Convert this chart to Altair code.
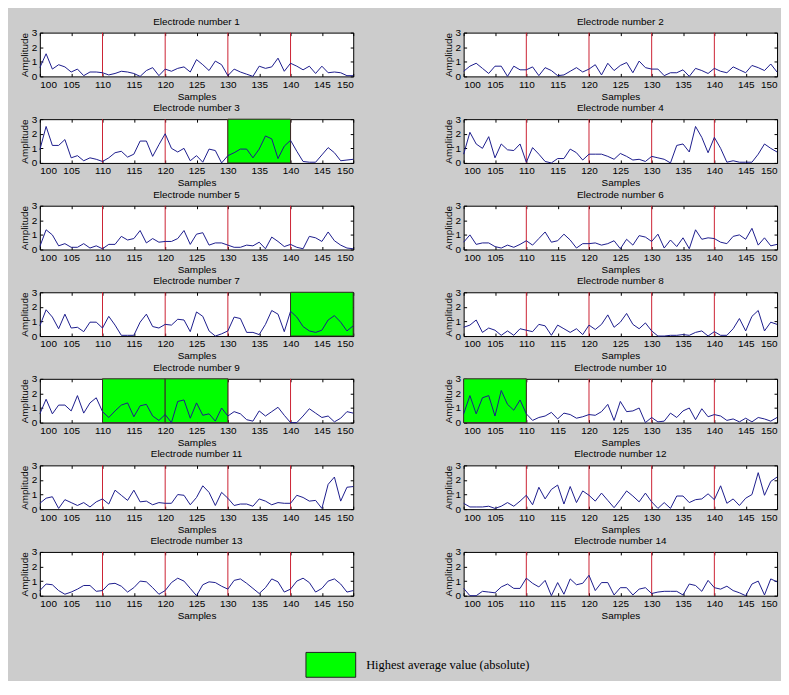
import altair as alt
import pandas as pd

samples = list(range(100, 151))

amps = {
    1: [0.6, 1.55, 0.5, 0.8, 0.65, 0.3, 0.5, 0.05, 0.3, 0.3, 0.25, 0.1, 0.2, 0.35, 0.3, 0.2, 0.0, 0.4, 0.6, 0.05,
        0.5, 0.35, 0.55, 0.65, 0.3, 1.15, 0.8, 0.4, 1.05, 0.8, 0.05, 0.5, 0.3, 0.15, 0.0, 0.7, 0.55, 0.65, 1.25, 0.35,
        0.9, 0.7, 0.45, 0.7, 0.2, 0.7, 0.25, 0.3, 0.25, 0.05, 0.05],
    2: [0.35, 0.7, 0.9, 0.55, 0.2, 0.7, 0.7, 0.0, 0.7, 0.45, 0.45, 0.65, 0.05, 0.6, 0.4, 0.05, 0.1, 0.35, 0.6, 0.3,
        0.5, 0.8, 0.1, 0.9, 0.4, 0.75, 0.95, 0.25, 1.05, 0.6, 0.5, 0.5, 0.05, 0.25, 0.25, 0.45, 0.0, 0.55, 0.4, 0.2,
        0.55, 0.35, 0.25, 0.65, 0.45, 0.25, 0.75, 0.6, 0.4, 0.85, 0.3],
    3: [0.9, 2.5, 1.2, 1.2, 1.6, 0.35, 0.5, 0.15, 0.35, 0.25, 0.1, 0.35, 0.7, 0.8, 0.4, 0.6, 1.5, 1.5, 0.45, 1.25,
        2.0, 1.0, 0.75, 1.0, 0.15, 0.5, 0.05, 0.95, 0.85, 0.0, 0.5, 0.7, 0.95, 0.95, 0.35, 0.95, 1.85, 1.65, 0.3, 1.15,
        1.55, 0.8, 0.1, 0.05, 0.05, 0.55, 1.05, 0.7, 0.15, 0.2, 0.25],
    4: [0.6, 2.1, 1.3, 1.0, 1.8, 0.35, 1.3, 0.9, 0.85, 1.3, 0.05, 1.05, 0.6, 0.1, 0.0, 0.3, 0.3, 0.95, 0.7, 0.2,
        0.6, 0.6, 0.6, 0.45, 0.25, 0.65, 0.45, 0.2, 0.25, 0.1, 0.45, 0.35, 0.25, 0.0, 1.2, 1.3, 0.75, 2.5, 1.75, 0.7,
        1.75, 1.0, 0.05, 0.15, 0.05, 0.05, 0.05, 0.6, 1.3, 1.0, 0.75],
    5: [0.2, 1.35, 1.0, 0.25, 0.4, 0.15, 0.15, 0.4, 0.1, 0.25, 0.05, 0.35, 0.35, 0.9, 0.65, 0.75, 1.3, 0.45, 0.75, 0.5,
        0.55, 0.55, 0.75, 1.3, 0.35, 1.05, 1.15, 0.3, 0.45, 0.45, 0.3, 0.15, 0.15, 0.3, 0.25, 0.5, 0.05, 0.85, 0.55, 0.2,
        0.35, 0.15, 0.05, 0.9, 0.8, 0.55, 1.2, 0.6, 0.3, 0.1, 0.05],
    6: [0.5, 1.0, 0.35, 0.45, 0.45, 0.2, 0.1, 0.3, 0.15, 0.35, 0.6, 0.3, 0.75, 1.2, 0.5, 0.6, 1.05, 0.65, 0.1, 0.4,
        0.4, 0.45, 0.3, 0.4, 0.6, 0.05, 0.7, 0.3, 0.95, 0.85, 0.55, 1.05, 0.1, 0.65, 0.2, 0.8, 0.05, 1.35, 0.7, 0.8,
        0.75, 0.5, 0.4, 0.9, 1.0, 0.7, 1.45, 0.3, 0.8, 0.25, 0.35],
    7: [0.7, 1.8, 1.3, 0.5, 1.5, 0.55, 0.6, 0.3, 0.95, 0.95, 0.55, 1.35, 0.75, 0.05, 0.05, 0.05, 0.95, 1.5, 0.65, 0.55,
        0.8, 0.75, 1.15, 1.1, 0.3, 1.65, 1.35, 0.35, 0.0, 0.15, 0.35, 1.3, 1.2, 0.25, 0.25, 0.1, 0.8, 1.75, 1.5, 0.3,
        1.7, 1.3, 0.65, 0.35, 0.25, 0.4, 1.1, 1.4, 0.95, 0.35, 0.7],
    8: [0.6, 0.75, 1.1, 0.25, 0.55, 0.4, 0.05, 0.35, 0.05, 0.5, 0.4, 0.3, 0.8, 0.7, 0.05, 0.75, 0.5, 0.25, 0.5, 0.1,
        0.75, 0.45, 0.8, 1.45, 0.6, 0.95, 1.55, 0.8, 0.5, 0.9, 0.35, 0.0, 0.0, 0.05, 0.05, 0.1, 0.05, 0.25, 0.35, 0.0,
        0.3, 0.05, 0.05, 0.5, 1.2, 0.35, 1.35, 1.75, 0.35, 0.95, 0.8],
    9: [0.6, 1.6, 0.6, 1.2, 1.2, 0.8, 1.85, 0.65, 1.35, 1.7, 0.75, 0.35, 0.8, 1.2, 1.35, 0.4, 1.15, 1.25, 0.45, 0.15,
        0.55, 0.0, 1.45, 1.55, 0.3, 1.35, 0.5, 0.6, 0.1, 1.0, 0.45, 0.75, 0.6, 0.2, 0.1, 0.8, 0.45, 0.75, 1.05, 0.5,
        0.0, 0.0, 0.45, 0.95, 0.65, 0.35, 0.45, 0.05, 0.3, 0.75, 0.65],
    10: [0.6, 1.85, 0.6, 1.7, 1.85, 0.45, 2.2, 1.25, 0.85, 1.55, 0.6, 0.15, 0.35, 0.45, 0.7, 0.25, 0.65, 0.55, 0.3, 0.4,
         0.55, 0.5, 0.75, 1.25, 0.15, 1.45, 0.75, 0.8, 1.0, 0.0, 0.35, 0.05, 0.1, 0.65, 0.35, 0.8, 1.0, 0.2, 0.95, 0.4,
         0.55, 0.45, 0.15, 0.25, 0.05, 0.3, 0.05, 0.35, 0.25, 0.1, 0.35],
    11: [0.4, 0.75, 0.85, 0.05, 0.65, 0.45, 0.25, 0.45, 0.15, 0.5, 0.7, 0.35, 1.3, 0.95, 0.6, 1.3, 0.5, 0.55, 0.3, 0.45,
         0.4, 0.4, 1.0, 0.95, 0.3, 0.8, 1.6, 1.15, 0.25, 1.15, 0.75, 0.25, 0.35, 0.35, 0.2, 0.7, 0.55, 0.3, 0.45, 0.4,
         0.4, 0.95, 0.8, 0.55, 0.6, 0.05, 1.7, 2.2, 0.55, 1.5, 1.55],
    12: [0.4, 0.15, 0.15, 0.15, 0.2, 0.05, 0.2, 0.45, 0.2, 0.55, 0.95, 0.3, 1.5, 0.7, 1.35, 1.65, 0.35, 1.55, 0.45, 1.25,
         0.95, 0.55, 1.1, 0.6, 0.1, 0.65, 1.25, 0.9, 0.5, 1.1, 0.5, 0.05, 0.45, 0.05, 0.9, 0.9, 0.45, 0.65, 0.7, 1.05,
         0.65, 1.6, 0.4, 0.7, 0.25, 0.75, 1.0, 2.5, 0.95, 1.9, 2.2],
    13: [0.35, 0.8, 0.75, 0.35, 0.1, 0.25, 0.45, 0.7, 0.7, 0.3, 0.35, 0.8, 0.85, 0.65, 0.25, 0.55, 1.0, 0.95, 0.55, 0.1,
         0.35, 0.9, 1.2, 1.0, 0.5, 0.0, 0.75, 0.95, 0.9, 0.65, 0.45, 1.05, 1.15, 0.85, 0.5, 0.15, 0.55, 1.15, 0.95, 0.25,
         0.45, 1.0, 1.2, 0.9, 0.25, 0.5, 1.0, 1.15, 0.8, 0.25, 0.35],
    14: [0.5, 0.0, 0.0, 0.3, 0.25, 0.2, 0.6, 0.8, 0.5, 0.5, 1.2, 0.85, 0.6, 1.05, 0.0, 0.9, 0.1, 1.15, 0.75, 0.85,
         1.4, 0.35, 0.9, 0.9, 0.05, 0.55, 0.55, 0.05, 0.45, 0.55, 0.15, 0.25, 0.3, 0.3, 0.3, 0.05, 0.8, 0.7, 0.3, 1.05,
         0.55, 0.45, 0.65, 0.35, 0.2, 0.0, 0.8, 1.0, 0.05, 1.15, 0.95],
}

# start of each highlighted 10-sample window
highlights = {3: [130], 7: [140], 9: [110, 120], 10: [100]}
window = 10
rule_x = [110, 120, 130, 140]
x_ticks = list(range(100, 151, 5))
y_ticks = [0, 1, 2, 3]
legend_label = "Highest average value (absolute)"

W, H = 315, 44
FONT = "Liberation Sans"
BLUE = "#1c1c8c"
RED = "#cc2233"
GREEN = "#00ff00"

xs = alt.Scale(domain=[100, 150], nice=False, zero=False)
ys = alt.Scale(domain=[0, 3], nice=False)

def tick_axis(orient, values):
    return alt.Axis(orient=orient, offset=-3, tickSize=3, labels=False, domain=False, grid=False,
                    title=None, values=values, tickColor="black", tickWidth=1)

def panel(n):
    line_df = pd.DataFrame({"sample": samples, "amp": amps[n]})
    starts = highlights.get(n, [])
    hl_df = pd.DataFrame({"start": starts, "end": [s + window for s in starts],
                          "label": [legend_label] * len(starts)})
    rule_df = pd.DataFrame({"x": rule_x})

    rules = alt.Chart(rule_df).mark_rule(color=RED, strokeWidth=1).encode(
        x=alt.X("x:Q", scale=xs, axis=None))

    rect = alt.Chart(hl_df).mark_rect(stroke="#3a2a2a", strokeWidth=1).encode(
        x=alt.X("start:Q", scale=xs, axis=None),
        x2="end:Q",
        y=alt.value(0), y2=alt.value(H),
        color=alt.Color("label:N",
                        scale=alt.Scale(domain=[legend_label], range=[GREEN]),
                        legend=alt.Legend(orient="none", legendX=267, legendY=610, title=None,
                                          symbolType="M-1,-0.5H1V0.5H-1Z", symbolSize=2500,
                                          symbolStrokeColor="#222222", symbolStrokeWidth=1,
                                          symbolOpacity=1, labelFont="Liberation Serif",
                                          labelFontSize=12.5, labelColor="black", labelOffset=10,
                                          labelLimit=400, padding=0)))

    main_x = alt.Axis(values=x_ticks, ticks=False, domain=False, grid=False, format="d",
                      labelFont=FONT, labelFontSize=10, labelColor="black", labelPadding=3,
                      title="Samples", titleFont=FONT, titleFontSize=10, titleFontWeight="normal",
                      titleColor="black", titlePadding=2)
    main_y = alt.Axis(values=y_ticks, ticks=False, domain=False, grid=False, format="d",
                      labelFont=FONT, labelFontSize=10, labelColor="black", labelPadding=3,
                      title="Amplitude", titleFont=FONT, titleFontSize=10, titleFontWeight="normal",
                      titleColor="black", titlePadding=2)

    line = alt.Chart(line_df).mark_line(color=BLUE, strokeWidth=1).encode(
        x=alt.X("sample:Q", scale=xs, axis=main_x),
        y=alt.Y("amp:Q", scale=ys, axis=main_y))

    ticks_a = alt.Chart(line_df).mark_point(opacity=0).encode(
        x=alt.X("sample:Q", scale=xs, axis=tick_axis("top", x_ticks)),
        y=alt.Y("amp:Q", scale=ys, axis=tick_axis("right", y_ticks)))
    ticks_b = alt.Chart(line_df).mark_point(opacity=0).encode(
        x=alt.X("sample:Q", scale=xs, axis=tick_axis("bottom", x_ticks)),
        y=alt.Y("amp:Q", scale=ys, axis=tick_axis("left", y_ticks)))

    return alt.layer(rules, rect, line, ticks_a, ticks_b).resolve_axis(
        x="independent", y="independent").properties(
        width=W, height=H,
        title=alt.TitleParams(f"Electrode number {n}", font=FONT, fontSize=10, fontWeight="normal",
                              color="black", offset=1))

rows = [alt.hconcat(panel(2 * r + 1), panel(2 * r + 2), spacing=85) for r in range(7)]
chart = alt.vconcat(*rows, spacing=0).properties(
    background="#cccccc",
    padding={"left": 10, "top": 6, "right": 0, "bottom": 0},
).configure_view(fill="white", stroke="black", strokeWidth=1)

chart.save("out.html", embed_options={"renderer": "svg", "actions": False})
